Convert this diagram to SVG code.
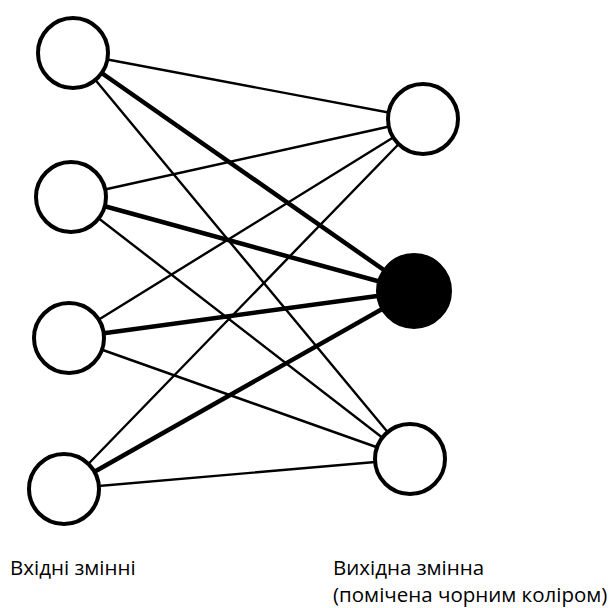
<svg xmlns="http://www.w3.org/2000/svg" width="615" height="608" viewBox="0 0 615 608">
  <style>
    .edge { stroke: #000; fill: none; stroke-linecap: round; }
    .thin { stroke-width: 2.4; }
    .thick { stroke-width: 4.5; }
    .node { stroke: #000; stroke-width: 4; fill: #fff; }
    .node.active { fill: #000; }
    .label { font-family: "Open Sans", "Noto Sans", "Liberation Sans", sans-serif; font-size: 20.5px; fill: #000; }
  </style>

  <!-- connectors: every input to every output, heavier into the black output -->
  <g id="connectors">
    <line class="edge thin" x1="73" y1="53" x2="423" y2="119"/>
    <line class="edge thick" x1="73" y1="53" x2="414" y2="291"/>
    <line class="edge thin" x1="73" y1="53" x2="410" y2="459"/>

    <line class="edge thin" x1="71" y1="197" x2="423" y2="119"/>
    <line class="edge thick" x1="71" y1="197" x2="414" y2="291"/>
    <line class="edge thin" x1="71" y1="197" x2="410" y2="459"/>

    <line class="edge thin" x1="69" y1="338" x2="423" y2="119"/>
    <line class="edge thick" x1="69" y1="338" x2="414" y2="291"/>
    <line class="edge thin" x1="69" y1="338" x2="410" y2="459"/>

    <line class="edge thin" x1="64" y1="489" x2="423" y2="119"/>
    <line class="edge thick" x1="64" y1="489" x2="414" y2="291"/>
    <line class="edge thin" x1="64" y1="489" x2="410" y2="459"/>
  </g>

  <!-- input nodes -->
  <g id="in1"><circle class="node" cx="73" cy="53" r="35"/></g>
  <g id="in2"><circle class="node" cx="71" cy="197" r="35"/></g>
  <g id="in3"><circle class="node" cx="69" cy="338" r="35"/></g>
  <g id="in4"><circle class="node" cx="64" cy="489" r="35"/></g>

  <!-- output nodes -->
  <g id="out1"><circle class="node" cx="423" cy="119" r="35"/></g>
  <g id="out2"><circle class="node active" cx="414" cy="291" r="36"/></g>
  <g id="out3"><circle class="node" cx="410" cy="459" r="35"/></g>

  <!-- captions -->
  <g id="captions">
    <text class="label" x="10" y="575">Вхідні змінні</text>
    <text class="label" x="333" y="575">Вихідна змінна</text>
    <text class="label" x="333" y="602">(помічена чорним коліром)</text>
  </g>
</svg>
